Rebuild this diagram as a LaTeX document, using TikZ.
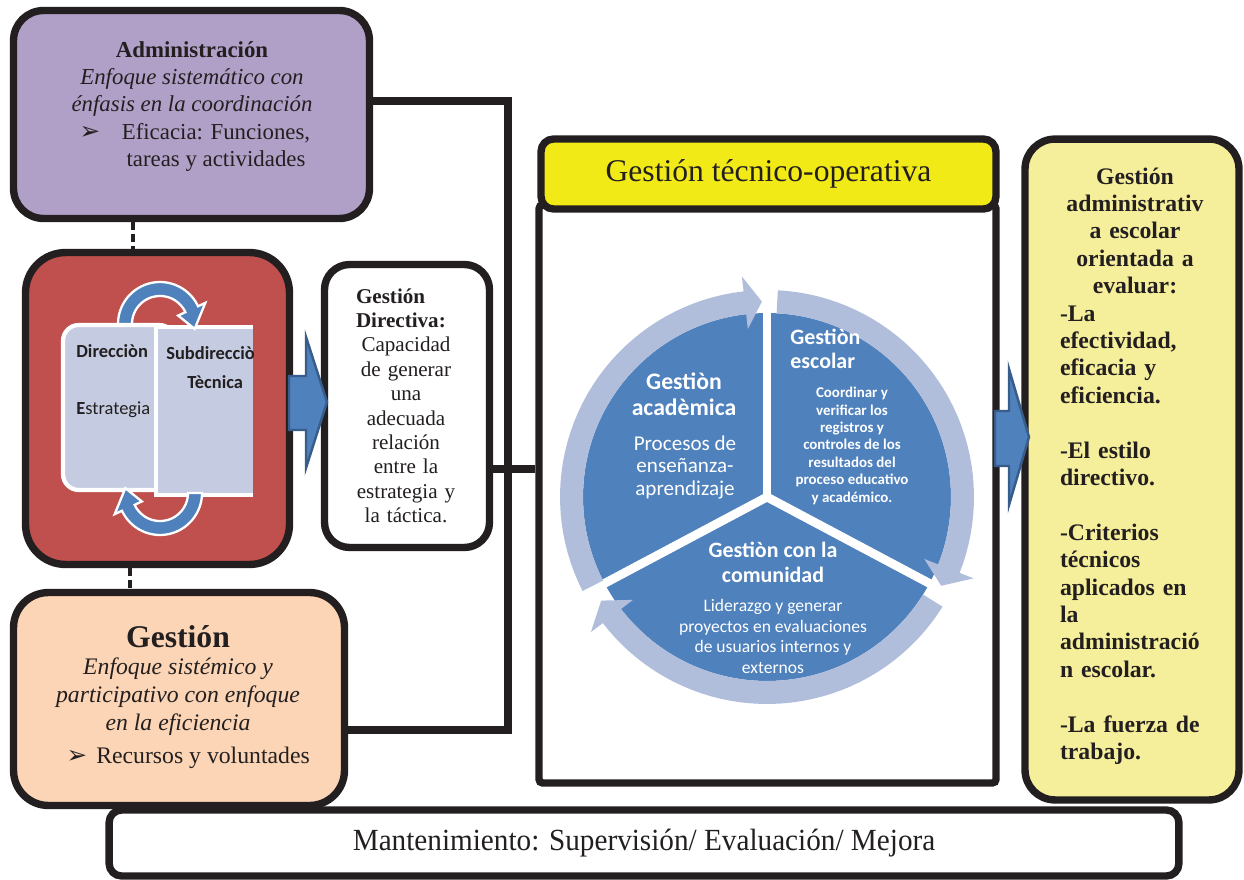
\documentclass[tikz,border=0pt]{standalone}
\usepackage{fontspec}
\usepackage{graphicx}
\setmainfont{Liberation Serif}
\newfontfamily\calfont{Carlito}
\newfontfamily\symfont{DejaVu Sans}
\usetikzlibrary{calc}

\definecolor{ink}{RGB}{35,31,32}
\definecolor{adminfill}{RGB}{176,160,199}
\definecolor{redfill}{RGB}{192,80,77}
\definecolor{peach}{RGB}{251,213,181}
\definecolor{headyellow}{RGB}{242,234,22}
\definecolor{paleyellow}{RGB}{245,238,154}
\definecolor{midblue}{RGB}{79,129,189}
\definecolor{darkblue}{RGB}{56,93,138}
\definecolor{ringblue}{RGB}{176,190,220}
\definecolor{panelgrey}{RGB}{197,204,225}

% curved block arrow: #1 cx, #2 cy, #3 inner r, #4 outer r, #5 head overhang,
% #6 start angle, #7 head base angle, #8 tip angle, #9 style
\newcommand{\arcarrow}[9]{%
  \filldraw[#9] plot[domain=#6:#7,samples=40] ({#1+#4*cos(\x)},{#2+#4*sin(\x)})
    -- ({#1+(#4+#5)*cos(#7)},{#2+(#4+#5)*sin(#7)})
    -- ({#1+(#3+#4)/2*cos(#8)},{#2+(#3+#4)/2*sin(#8)})
    -- ({#1+(#3-#5)*cos(#7)},{#2+(#3-#5)*sin(#7)})
    -- plot[domain=#7:#6,samples=40] ({#1+#3*cos(\x)},{#2+#3*sin(\x)}) -- cycle;}

\begin{document}
\begin{tikzpicture}[x=0.02cm,y=-0.02cm,
  box/.style={draw=ink,line width=4.2pt,inner sep=0pt},
  link/.style={draw=ink,line width=4pt},
  dashlink/.style={draw=ink,line width=2.2pt,dash pattern=on 4.5pt off 2.2pt},
  blockarrow/.style={fill=midblue,draw=darkblue,line width=1.4pt,line join=miter},
  txt/.style={inner sep=0pt,text=ink},
  wtxt/.style={inner sep=0pt,text=white},
  bullet/.style={inner sep=0pt,text=ink,font=\symfont\fontsize{14}{15}\selectfont}]
\useasboundingbox (0,0) rectangle (1244,879);

% ---------- boxes ----------
\node[box,fill=adminfill,minimum width=7.12cm,minimum height=4.16cm,rounded corners=0.6cm] (admin) at (191.5,114.5) {};
\node[box,fill=redfill,minimum width=5.28cm,minimum height=6.24cm,rounded corners=0.8cm] (dir) at (157.5,408.5) {};
\node[box,fill=white,minimum width=3.3cm,minimum height=5.66cm,rounded corners=0.5cm] (gdir) at (407,406) {};
\node[box,fill=peach,minimum width=6.62cm,minimum height=4.26cm,rounded corners=0.7cm] (gest) at (179,699) {};
\node[box,fill=white,minimum width=9.14cm,minimum height=11.56cm,rounded corners=2pt] (tec) at (767.5,494) {};
\node[box,fill=headyellow,minimum width=9.1cm,minimum height=1.4cm,rounded corners=0.25cm,
      font=\fontsize{18}{20}\selectfont,text=ink] (head) at (768.5,174) {Gestión técnico-operativa};
\node[box,fill=paleyellow,minimum width=4.28cm,minimum height=13.22cm,rounded corners=0.6cm] (eval) at (1132,469.5) {};
\node[box,fill=white,minimum width=21.4cm,minimum height=1.32cm,rounded corners=0.25cm,text=ink] (mant) at (644,843)
  {\scalebox{0.95}[1]{\fontsize{17.5}{20}\selectfont Mantenimiento: Supervisión/ Evaluación/ Mejora}};

% ---------- connectors ----------
\coordinate (jTop) at (508,101);
\coordinate (jBot) at (508,730);
\coordinate (jMid) at (508,469);
\draw[link,line join=miter] (admin.east |- jTop) -- (jTop) -- (jBot) -- (gest.east |- jBot);
\draw[link] (gdir.east |- jMid) -- (tec.west |- jMid);

\coordinate (dA) at (133,0);
\coordinate (dB) at (130,0);
\draw[dashlink] (dA |- admin.south) -- (dA |- dir.north);
\draw[dashlink] (dB |- dir.south) -- (dB |- gest.north);

% ---------- block arrows ----------
\filldraw[blockarrow] (289,376) -- (306,376) -- (306,337) -- (327,402) -- (306,468) -- (306,430) -- (289,430) -- cycle;
\filldraw[blockarrow] (995,411) -- (1009,411) -- (1009,369) -- (1029,437) -- (1009,505) -- (1009,466) -- (995,466) -- cycle;

% ---------- direction panels ----------
\filldraw[fill=panelgrey,draw=white,line width=2.4pt,rounded corners=9pt] (63,325) rectangle (175,490);
\fill[panelgrey] (156,327) rectangle (253,495);
\draw[white,line width=2.4pt] (253,327) -- (156,327) -- (156,495) -- (253,495);
\arcarrow{160}{324}{28}{42}{8}{180}{335}{368}{fill=midblue,draw=white,line width=1.3pt}
\arcarrow{160}{493}{28}{42}{8}{0}{155}{188}{fill=midblue,draw=white,line width=1.3pt}

\node[txt,anchor=base west,font=\calfont\bfseries\fontsize{10.5}{12}\selectfont] (dirA) at (76,357) {Direcciòn};
\node[txt,anchor=base west,font=\calfont\fontsize{10.5}{12}\selectfont] (dirB) at (76,414) {\textbf{E}strategia};
\begin{scope}
  \clip (157,320) rectangle (253,500);
  \node[txt,anchor=base west,font=\calfont\bfseries\fontsize{10.5}{12}\selectfont] (subA) at (166,359) {Subdirecciòn};
\end{scope}
\node[txt,anchor=base west,font=\calfont\bfseries\fontsize{10.5}{12}\selectfont] (subB) at (187,388) {Tècnica};

% ---------- cycle ----------
\coordinate (pc) at (767,497);
\fill[midblue] (pc) circle[radius=3.68cm];
\foreach \a in {270,152,28} \draw[white,line width=5pt] (pc) -- ++(\a:190);
\arcarrow{767}{497}{184}{207}{15}{153}{263.5}{268.5}{fill=ringblue,draw=none}
\arcarrow{767}{497}{184}{207}{15}{273}{381.5}{387}{fill=ringblue,draw=none}
\arcarrow{767}{497}{184}{207}{15}{32}{142.5}{148}{fill=ringblue,draw=none}

% multi-line nodes below sit on the baseline of their last line
\node[wtxt,anchor=base,align=center,font=\calfont\bfseries\fontsize{13.5}{14.7}\selectfont] (acadT) at (684,415) {Gestiòn\\acadèmica};
\node[wtxt,anchor=base,align=center,font=\calfont\fontsize{12}{12.6}\selectfont] (acadB) at (685,495) {Procesos de\\enseñanza-\\aprendizaje};
\node[wtxt,anchor=base west,align=left,font=\calfont\bfseries\fontsize{12.5}{13.2}\selectfont] (escT) at (790,368) {Gestiòn\\escolar};
\node[wtxt,anchor=base,align=center,font=\calfont\bfseries\fontsize{8.5}{9.9}\selectfont] (escB) at (852,502) {Coordinar y\\verificar los\\registros y\\controles de los\\resultados del\\proceso educativo\\y académico.};
\node[wtxt,anchor=base,align=center,font=\calfont\bfseries\fontsize{12.5}{14.2}\selectfont] (comT) at (773,582) {Gestiòn con la\\comunidad};
\node[wtxt,anchor=base,align=center,font=\calfont\fontsize{10}{11.6}\selectfont] (comB) at (773,673) {Liderazgo y generar\\proyectos en evaluaciones\\de usuarios internos y\\externos};

% ---------- texts in the boxes ----------
\node[txt,anchor=base,align=center,font=\fontsize{13}{15.3}\selectfont] (adminT) at (192,111)
  {\textbf{Administración}\\\textit{Enfoque sistemático con}\\\textit{énfasis en la coordinación}};
\node[bullet,anchor=base] (adminBul) at (90,139) {➢};
\node[txt,anchor=base,align=center,font=\fontsize{13}{15.3}\selectfont] (adminI) at (216,166) {Eficacia: Funciones,\\tareas y actividades};

\node[txt,anchor=base,align=center,text width=2.2cm,font=\fontsize{12}{13.9}\selectfont] (gdirT) at (406,303)
  {\makebox[\linewidth][l]{\hspace*{0.1cm}\textbf{Gestión}}\\
   \makebox[\linewidth][l]{\hspace*{0.1cm}\textbf{Directiva:}}\\
   Capacidad\\de generar\\una\\adecuada\\relación\\entre la\\estrategia y\\la táctica.};

\node[txt,anchor=base,font=\bfseries\fontsize{18}{20}\selectfont] (gestT) at (178,647) {Gestión};
\node[txt,anchor=base,align=center,font=\itshape\fontsize{13.5}{15.9}\selectfont] (gestI) at (178,730)
  {Enfoque sistémico y\\participativo con enfoque\\en la eficiencia};
\node[bullet,anchor=base] (gestBul) at (77,763) {➢};
\node[txt,anchor=base west,font=\fontsize{13.5}{15.9}\selectfont] (gestR) at (96,763) {Recursos y voluntades};

\node[txt,anchor=base,align=left,text width=3cm,font=\bfseries\fontsize{13.5}{15.6}\selectfont] (evalT) at (1135,184)
  {\makebox[\linewidth][c]{Gestión}\\
   \makebox[\linewidth][c]{administrativ}\\
   \makebox[\linewidth][c]{a escolar}\\
   \makebox[\linewidth][c]{orientada a}\\
   \makebox[\linewidth][c]{evaluar:}\\
   -La\\efectividad,\\eficacia y\\eficiencia.\\~\\
   -El estilo\\directivo.\\~\\
   -Criterios\\técnicos\\aplicados en\\la\\administració\\n escolar.\\~\\
   -La fuerza de\\trabajo.};
\end{tikzpicture}
\end{document}
